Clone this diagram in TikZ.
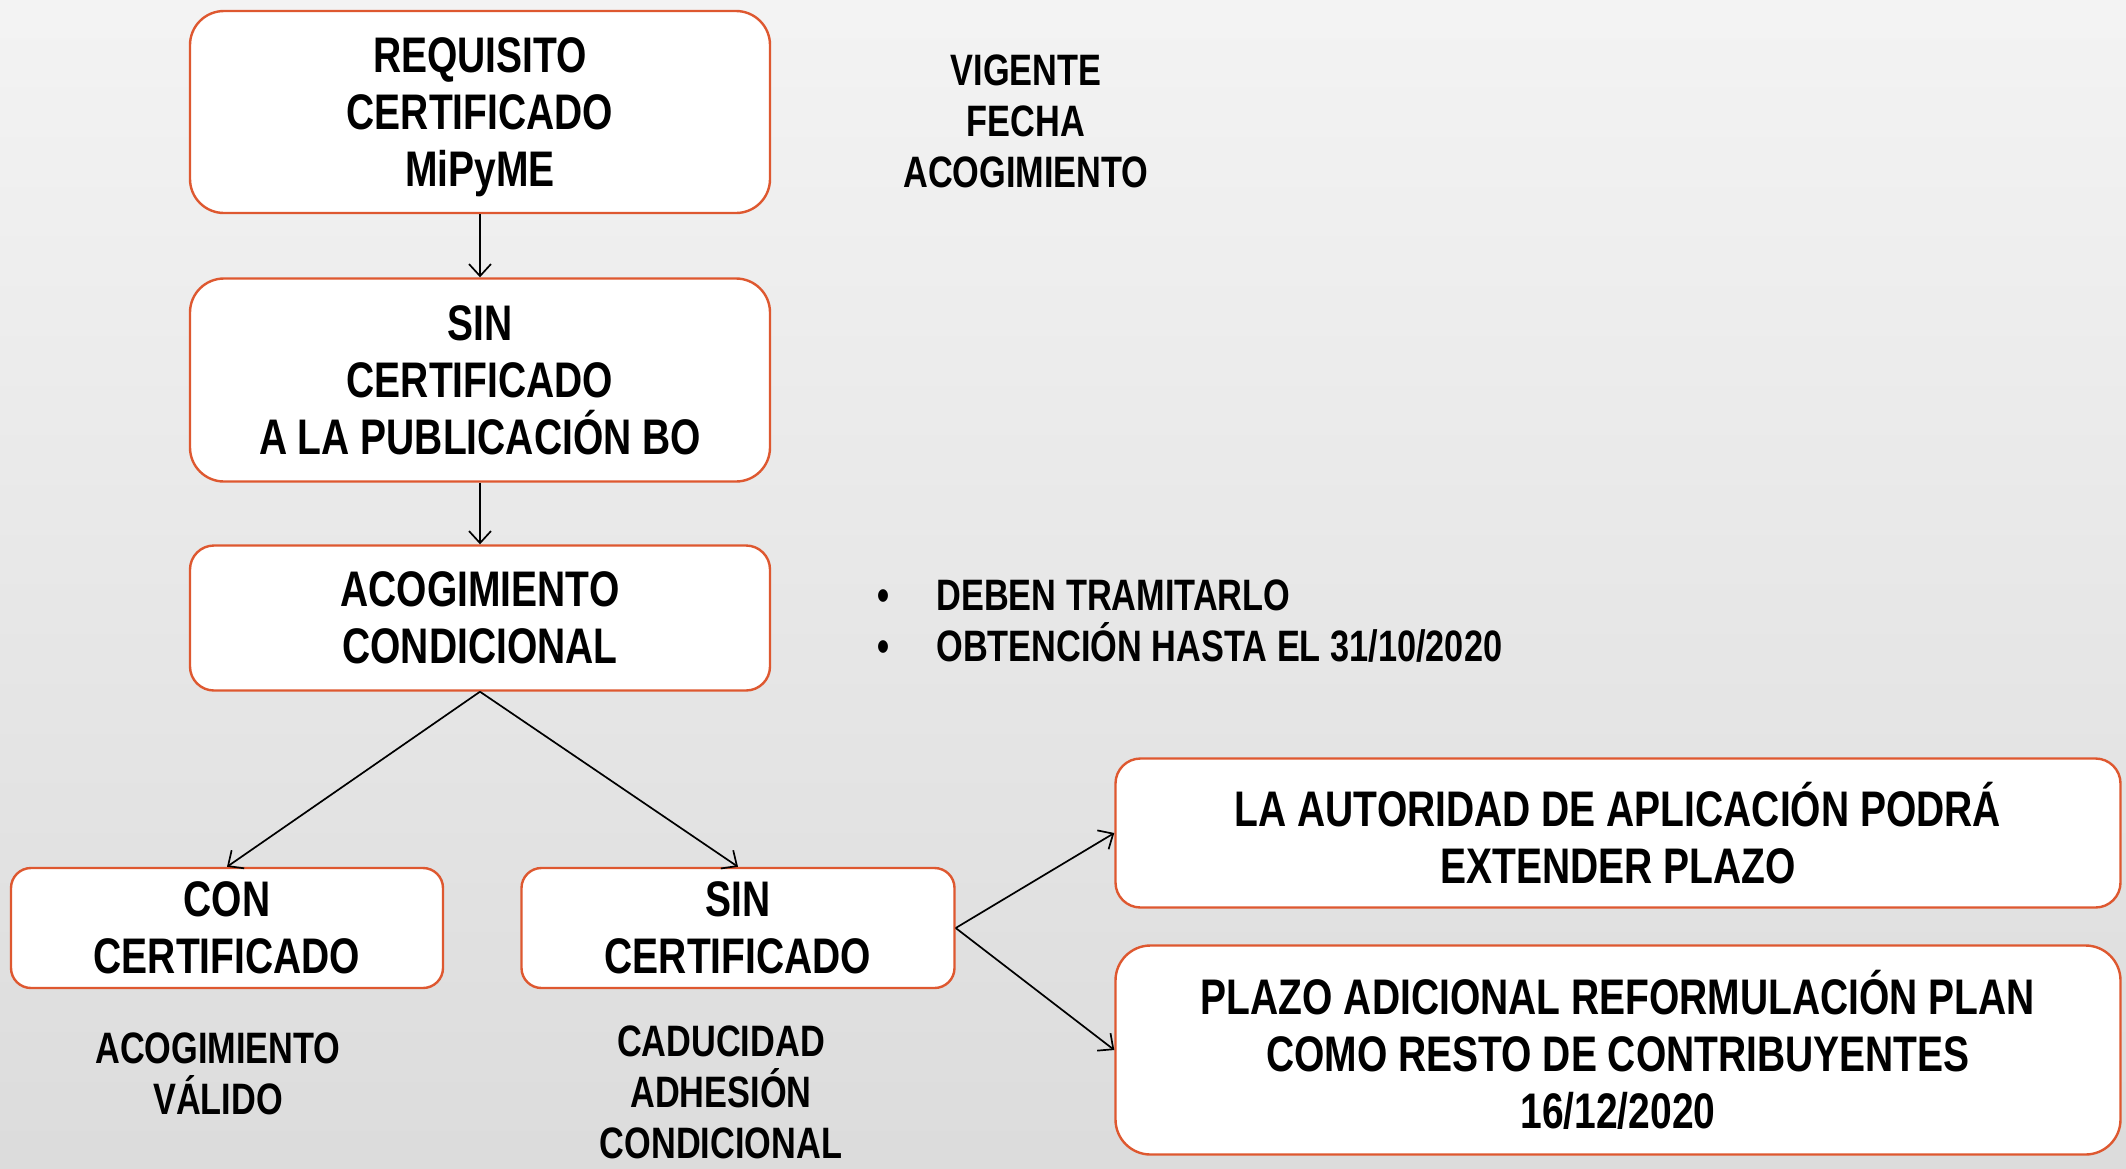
\documentclass[tikz,border=0pt]{standalone}
\usepackage{fontspec}
\setmainfont[FakeStretch=0.78]{Liberation Sans}
\usetikzlibrary{arrows.meta}
\definecolor{boxline}{RGB}{222,88,48}
\definecolor{bgbot}{RGB}{208,208,208}
\pgfdeclareverticalshading{bgshade}{100bp}{color(0bp)=(bgbot); color(100bp)=(white)}
\begin{document}
\begin{tikzpicture}[x=0.5pt,y=-0.5pt,
  box/.style={draw=boxline, line width=1.2pt, fill=white, align=center, inner sep=0pt, font=\fontsize{25}{28.5}\selectfont\bfseries},
  side/.style={align=center, inner sep=0pt, font=\fontsize{22}{25.5}\selectfont\bfseries},
  conn/.style={line width=0.85pt, -{Straight Barb[length=6pt,width=11pt]}}]
\shade[shading=bgshade] (0,0) rectangle (2126,1168);
\useasboundingbox (0,0) rectangle (2126,1168);

\node[box, minimum width=290pt, minimum height=101pt, rounded corners=17pt, text depth=0pt] (b1) at (480,112) {REQUISITO\\CERTIFICADO\\MiPyME};
\node[box, minimum width=290pt, minimum height=101.5pt, rounded corners=17pt] (b2) at (480,380) {SIN\\CERTIFICADO\\A LA PUBLICACIÓN BO};
\node[box, minimum width=290pt, minimum height=72.5pt, rounded corners=12pt] (b3) at (480,618) {ACOGIMIENTO\\CONDICIONAL};
\node[box, minimum width=216pt, minimum height=60pt, rounded corners=10pt] (b4) at (227,928) {CON\\CERTIFICADO};
\node[box, minimum width=216.5pt, minimum height=60pt, rounded corners=10pt] (b5) at (738,928) {SIN\\CERTIFICADO};
\node[box, minimum width=502.5pt, minimum height=74.5pt, rounded corners=12.5pt] (b6) at (1618,833) {LA AUTORIDAD DE APLICACIÓN PODRÁ\\EXTENDER PLAZO};
\node[box, minimum width=502.5pt, minimum height=104.5pt, rounded corners=17.5pt] (b7) at (1618,1050) {PLAZO ADICIONAL REFORMULACIÓN PLAN\\COMO RESTO DE CONTRIBUYENTES\\16/12/2020};

\draw[conn] (b1) -- (b2);
\draw[conn] (b2) -- (b3);
\draw[conn] (b3.south) -- (b4.north);
\draw[conn] (b3.south) -- (b5.north);
\draw[conn] (b5.east) -- (b6.west);
\draw[conn] (b5.east) -- (b7.west);

\node[side] (t1) at (1026,121) {VIGENTE\\FECHA\\ACOGIMIENTO};
\node[side] (t2) at (218,1074) {ACOGIMIENTO\\VÁLIDO};
\node[side] (t3) at (721,1092) {CADUCIDAD\\ADHESIÓN\\CONDICIONAL};
\node[side, anchor=base] (bu1) at (883,610) {•};
\node[side, anchor=base west] (l1) at (936,610) {DEBEN TRAMITARLO};
\node[side, anchor=base] (bu2) at (883,661) {•};
\node[side, anchor=base west] (l2) at (936,661) {OBTENCIÓN HASTA EL 31/10/2020};
\end{tikzpicture}
\end{document}
